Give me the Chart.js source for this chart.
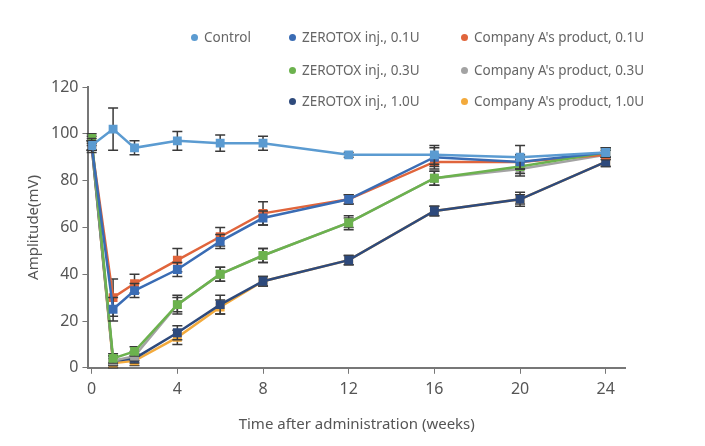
<!DOCTYPE html>
<html>
<head>
<meta charset="utf-8">
<script src="https://cdn.jsdelivr.net/npm/chart.js@4/dist/chart.umd.min.js"></script>
<style>
    body { margin: 0; background: #fff; }
    #wrap { position: relative; width: 705px; height: 446px; }
    #legend { position: absolute; left: 0; top: 0; width: 705px; height: 120px; font-family: "Noto Sans", sans-serif; font-size: 13.5px; line-height: 20px; color: #666; }
    .item { position: absolute; white-space: nowrap; }
    .dot { display: inline-block; width: 7px; height: 7px; border-radius: 50%; margin-right: 6px; vertical-align: 1px; }
</style>
</head>
<body>
<div id="wrap">
    <canvas id="chart" width="705" height="446"></canvas>
    <div id="legend"></div>
</div>
<script>
const weeks = [0, 1, 2, 4, 6, 8, 12, 16, 20, 24];

const seriesNames = [
    'Control',
    'ZEROTOX inj., 0.1U',
    "Company A's product, 0.1U",
    'ZEROTOX inj., 0.3U',
    "Company A's product, 0.3U",
    'ZEROTOX inj., 1.0U',
    "Company A's product, 1.0U"
];

const control      = [95, 102, 94, 97, 96, 96, 91, 91, 90, 92];
const zerotox01    = [95, 25, 33, 42, 54, 64, 72, 90, 88, 92];
const companyA01   = [95, 30, 36, 46, 56, 66, 72, 88, 88, 91];
const zerotox03    = [98, 4, 7, 27, 40, 48, 62, 81, 86, 92];
const companyA03   = [97, 3, 5, 27, 40, 48, 62, 81, 85, 91];
const zerotox10    = [95, 3, 4, 15, 27, 37, 46, 67, 72, 88];
const companyA10   = [95, 2, 3, 13, 26, 37, 46, 67, 72, 88];

const controlErr    = [3, 9, 3, 4, 3.5, 3, 1, 4, 5, 2];
const zerotox01Err  = [2, 5, 3, 3, 3, 3, 2, 4, 3, 2];
const companyA01Err = [2, 8, 4, 5, 4, 5, 2, 3, 3, 2];
const zerotox03Err  = [2, 2, 2, 4, 3, 3, 3, 3, 3, 2];
const companyA03Err = [2, 2, 2, 3, 3, 3, 2, 3, 3, 2];
const zerotox10Err  = [2, 2, 2, 3, 4, 2, 2, 2, 3, 2];
const companyA10Err = [2, 2, 2, 3, 3, 2, 2, 2, 2, 2];

const xTicks = [0, 4, 8, 12, 16, 20, 24];

const colors = ['#5b9bd1', '#3a6cb4', '#e0653c', '#6cb24e', '#a3a3a3', '#2e4a7c', '#f3aa3c'];

const allValues = [control, zerotox01, companyA01, zerotox03, companyA03, zerotox10, companyA10];
const allErrors = [controlErr, zerotox01Err, companyA01Err, zerotox03Err, companyA03Err, zerotox10Err, companyA10Err];
// which series sits on top (lower order = drawn later)
const drawOrder = [0, 1, 3, 2, 4, 5, 6];

const datasets = allValues.map((vals, i) => ({
    label: seriesNames[i],
    data: vals.map((v, j) => ({ x: weeks[j], y: v })),
    errors: allErrors[i],
    borderColor: colors[i],
    backgroundColor: colors[i],
    borderWidth: 2.5,
    pointStyle: 'rect',
    pointRadius: 4.5,
    order: drawOrder[i]
}));

const errorBars = {
    id: 'errorBars',
    beforeDatasetDraw(chart, args) {
        const ds = chart.data.datasets[args.index];
        const meta = args.meta;
        const ctx = chart.ctx;
        const y = chart.scales.y;
        ctx.save();
        ctx.strokeStyle = '#3a3a3a';
        ctx.lineWidth = 1.5;
        meta.data.forEach((pt, j) => {
            const v = ds.data[j].y;
            const e = ds.errors[j];
            const top = y.getPixelForValue(v + e);
            const bot = y.getPixelForValue(v - e);
            ctx.beginPath();
            ctx.moveTo(pt.x, top); ctx.lineTo(pt.x, bot);
            ctx.moveTo(pt.x - 5, top); ctx.lineTo(pt.x + 5, top);
            ctx.moveTo(pt.x - 5, bot); ctx.lineTo(pt.x + 5, bot);
            ctx.stroke();
        });
        ctx.restore();
    }
};

new Chart(document.getElementById('chart').getContext('2d'), {
    type: 'line',
    data: { datasets: datasets },
    plugins: [errorBars],
    options: {
        responsive: false,
        animation: false,
        layout: { padding: { top: 87, right: 80, left: 21, bottom: 8 } },
        plugins: {
            legend: { display: false },
            tooltip: { enabled: false }
        },
        scales: {
            x: {
                type: 'linear',
                min: -0.15,
                max: 24.9,
                afterBuildTicks: axis => { axis.ticks = xTicks.map(v => ({ value: v })); },
                ticks: { color: '#555', font: { family: 'Noto Sans', size: 16 }, padding: 6 },
                grid: { drawOnChartArea: false, tickLength: 6, color: '#777' },
                border: { color: '#777', width: 2 },
                title: { display: true, text: 'Time after administration (weeks)', color: '#555', font: { family: 'Noto Sans', size: 15 }, padding: { top: 11 } }
            },
            y: {
                min: 0,
                max: 120,
                ticks: { stepSize: 20, color: '#555', font: { family: 'Noto Sans', size: 16 }, padding: 4 },
                grid: { drawOnChartArea: false, tickLength: 6, color: '#777' },
                border: { color: '#777', width: 2 },
                title: { display: true, text: 'Amplitude(mV)', color: '#555', font: { family: 'Noto Sans', size: 15 }, padding: { bottom: 4 } }
            }
        }
    }
});

// legend in three columns, like the original
const legendPos = [[191, 27], [289, 27], [461, 27], [289, 60], [461, 60], [289, 91], [461, 91]];
const legend = document.getElementById('legend');
seriesNames.forEach((name, i) => {
    const el = document.createElement('div');
    el.className = 'item';
    el.style.left = legendPos[i][0] + 'px';
    el.style.top = legendPos[i][1] + 'px';
    el.innerHTML = '<span class="dot" style="background:' + colors[i] + '"></span>' + name;
    legend.appendChild(el);
});
</script>
</body>
</html>
